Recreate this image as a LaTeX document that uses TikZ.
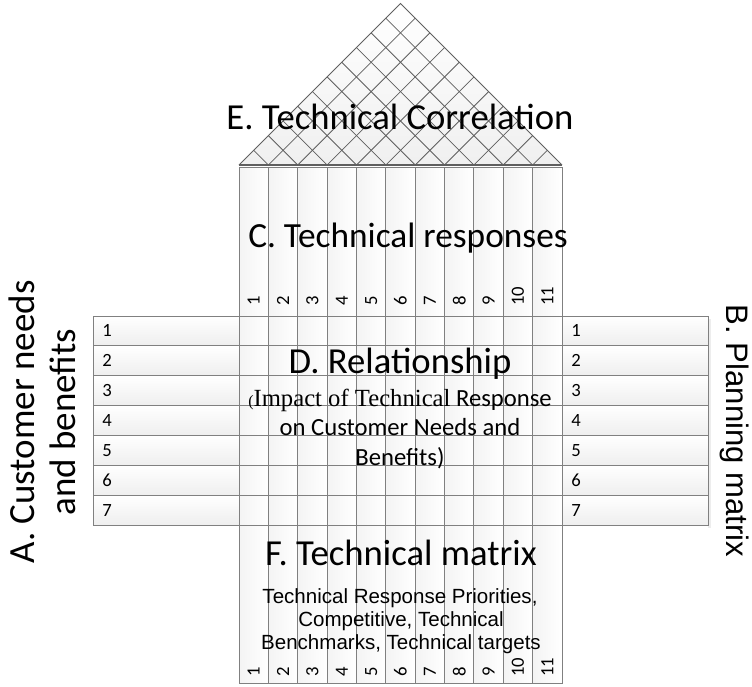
\documentclass[tikz,border=0pt]{standalone}
\usepackage{fontspec}
\setmainfont{Carlito}
\newfontfamily\timesfont{Liberation Serif}
\newfontfamily\arialfont{Liberation Sans}
\usepackage{tikz}
\definecolor{gridline}{RGB}{128,128,128}
\definecolor{roofline}{RGB}{95,95,95}
\tikzset{
	cell/.style={draw=gridline, line width=0.7pt, top color=white, bottom color=gray!13},
	strip/.style={draw=gridline, line width=0.7pt, left color=gray!9, right color=white},
	rowline/.style={draw=gridline, line width=0.7pt},
	rafter/.style={draw=roofline, line width=0.6pt},
	heading/.style={font=\fontsize{27.5}{32}\selectfont, inner sep=0pt, anchor=base},
	subline/.style={font=\fontsize{18.5}{22}\selectfont, inner sep=0pt, anchor=base},
	noteline/.style={font=\arialfont\fontsize{15.4}{18}\selectfont, inner sep=0pt, anchor=base},
	number/.style={font=\fontsize{14}{16}\selectfont, inner sep=0pt, anchor=west},
}
\newcommand{\needrow}[3] % {side}{x}{number}
{
	\draw [cell] (#2,{316+(#3-1)*29.86}) rectangle ++(146,29.86);
	\node [number] (#1#3) at (#2+9,{316+(#3-0.5)*29.86}) {#3};
}
\newcommand{\techcol}[1] % {number}
{
	\draw [strip] ({239+(#1-1)*29.364},167) rectangle ++(29.364,516);
	\node [number, rotate=90] (top#1) at ({239+(#1-0.5)*29.364},306) {#1};
	\node [number, rotate=90] (bot#1) at ({239+(#1-0.5)*29.364},677) {#1};
}

\begin{document}
\begin{tikzpicture}[x=0.75pt,y=-0.75pt]
	\useasboundingbox (0,0) rectangle (752,686);
	\foreach \c in {1,...,11} {\techcol{\c}}
	\fill [gray!14] (708,319) rectangle (711,528);
	\foreach \r in {1,...,7} {\needrow{L}{93}{\r} \needrow{R}{562}{\r}}
	\foreach \r in {0,...,7} {\draw [rowline] (239,{316+\r*29.86}) -- (562,{316+\r*29.86});}
	
	% roof
	\coordinate (eaveL) at (239,165);
	\coordinate (apex) at (400.5,3.5);
	\coordinate (eaveR) at (562,165);
	\shade [top color=white, bottom color=gray!12] (eaveL) -- (apex) -- (eaveR) -- cycle;
	\foreach \k in {1,...,10} {
		\draw [rafter] ({239+\k*29.364},165) -- ({239+\k*14.682},{165-\k*14.682});
		\draw [rafter] ({239+\k*29.364},165) -- ({400.5+\k*14.682},{165-(11-\k)*14.682});
	}
	\draw [rafter] (eaveL) -- (apex) -- (eaveR);
	\draw [line width=1.3pt, roofline] (eaveL) -- (eaveR);
	
	\node [heading] (roofTitle) at (400,129) {E. Technical Correlation};
	\node [heading, font=\fontsize{26.5}{30}\selectfont] (respTitle) at (408,247) {C. Technical responses};
	\node [heading] (relTitle) at (400,373) {D. Relationship};
	\node [subline] (relLineA) at (400,406) {{\timesfont{\fontsize{12}{12}\selectfont(}Impact of Technical} Response};
	\node [subline] (relLineB) at (400,435) {on Customer Needs and};
	\node [subline] (relLineC) at (400,465) {Benefits)};
	\node [heading] (matTitle) at (401,565) {F. Technical matrix};
	\node [noteline] (matLineA) at (400,603) {Technical Response Priorities,};
	\node [noteline] (matLineB) at (401,626) {Competitive, Technical};
	\node [noteline] (matLineC) at (401,649) {Benchmarks, Technical targets};
	\node [font=\fontsize{27.7}{31}\selectfont, align=center, rotate=90, inner sep=0pt] (needs) at (42,422) {A. Customer needs\\and benefits};
	\node [font=\arialfont\fontsize{23.3}{26}\selectfont, rotate=-90, inner sep=0pt] (planning) at (735,431) {B. Planning matrix};
	%\node at (400,300) {};
\end{tikzpicture}
\end{document}
